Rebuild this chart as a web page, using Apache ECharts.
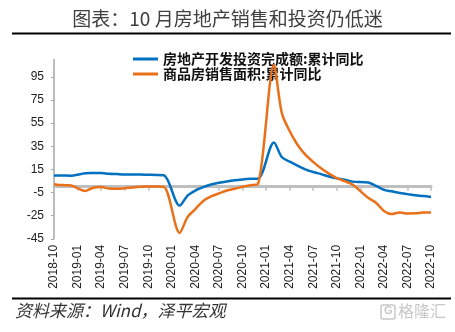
<!DOCTYPE html>
<html><head><meta charset="utf-8">
<script src="https://cdn.jsdelivr.net/npm/echarts@6/dist/echarts.min.js"></script>
<style>html,body{margin:0;padding:0;background:#fff}#c{width:455px;height:332px}</style>
</head><body><div id="c"></div>
<script>
const titleText = '图表：10 月房地产销售和投资仍低迷';
const sourceText = '资料来源：Wind，泽平宏观';
const seriesNames = ['房地产开发投资完成额:累计同比', '商品房销售面积:累计同比'];
const categories = [
  '2018-10','2018-11','2018-12',
  '2019-01','2019-02','2019-03','2019-04','2019-05','2019-06','2019-07','2019-08','2019-09','2019-10','2019-11','2019-12',
  '2020-01','2020-02','2020-03','2020-04','2020-05','2020-06','2020-07','2020-08','2020-09','2020-10','2020-11','2020-12',
  '2021-01','2021-02','2021-03','2021-04','2021-05','2021-06','2021-07','2021-08','2021-09','2021-10','2021-11','2021-12',
  '2022-01','2022-02','2022-03','2022-04','2022-05','2022-06','2022-07','2022-08','2022-09','2022-10'
];
// January values are not published (Jan-Feb combined): null, line connected across
const investYoY = [
  9.7, 9.7, 9.5,
  null, 11.6, 11.8, 11.9, 11.2, 10.9, 10.6, 10.5, 10.5, 10.3, 10.2, 9.9,
  null, -16.3, -7.7, -3.3, -0.3, 1.9, 3.4, 4.6, 5.6, 6.3, 6.8, 7.0,
  null, 38.3, 25.6, 21.6, 18.3, 15.0, 12.7, 10.9, 8.8, 7.2, 6.0, 4.4,
  null, 3.7, 0.7, -2.7, -4.0, -5.4, -6.4, -7.4, -8.0, -8.8
];
const salesAreaYoY = [
  2.2, 1.4, 1.3,
  null, -3.6, -0.9, -0.3, -1.6, -1.8, -1.3, -0.6, -0.1, 0.1, 0.2, -0.1,
  null, -39.9, -26.3, -19.3, -12.3, -8.4, -5.8, -3.3, -1.8, 0.0, 1.3, 2.6,
  null, 104.9, 63.8, 48.1, 36.3, 27.7, 21.5, 15.9, 11.3, 7.5, 4.8, 1.9,
  null, -9.6, -13.8, -20.9, -23.6, -22.2, -23.1, -23.0, -22.2, -22.3
];
const yTickValues = [-45, -25, -5, 15, 35, 55, 75, 95];

const numFont = "'Liberation Sans Narrow','Arial Narrow','Liberation Sans',sans-serif";
const cjkFont = "'Noto Sans CJK SC',sans-serif";

const chart = echarts.init(document.getElementById('c'), null, {renderer: 'canvas'});
chart.setOption({
  animation: false,
  backgroundColor: '#fff',
  grid: {left: 54, right: 24, top: 59.4, bottom: 93.2, containLabel: false},
  legend: {
    orient: 'vertical', left: 128, top: 47, itemGap: 1,
    itemWidth: 25, itemHeight: 3, icon: 'rect',
    textStyle: {fontFamily: cjkFont, fontSize: 14, fontWeight: 'bold', color: '#111', padding: [0,0,0,0]},
    data: seriesNames
  },
  xAxis: [{
    type: 'category', data: categories, boundaryGap: false, position: 'bottom',
    axisLine: {show: false, onZero: false},
    axisTick: {show: false},
    axisLabel: {interval: 2, rotate: 90, margin: 6, fontFamily: numFont, fontSize: 12, color: '#222'},
    splitLine: {show: false}
  }, {
    type: 'category', data: categories, boundaryGap: false, position: 'bottom',
    axisLine: {show: true, onZero: true, lineStyle: {color: '#bfbfbf', width: 3}},
    axisTick: {show: true, interval: 2, length: 4, lineStyle: {color: '#bfbfbf', width: 1.5}},
    axisLabel: {show: false},
    splitLine: {show: false}
  }],
  yAxis: {
    type: 'value', min: -45, max: 110,
    axisLine: {show: true, lineStyle: {color: '#a6a6a6', width: 1.5}},
    axisTick: {show: true, length: 3, customValues: yTickValues, lineStyle: {color: '#a6a6a6'}},
    axisLabel: {customValues: yTickValues, margin: 10, fontFamily: numFont, fontSize: 12, color: '#222'},
    splitLine: {show: false}
  },
  series: [{
    name: seriesNames[0], type: 'line', data: investYoY, xAxisIndex: 0,
    connectNulls: true, smooth: 0.3, showSymbol: false, symbol: 'none',
    lineStyle: {color: '#0070C0', width: 2.5}, itemStyle: {color: '#0070C0'}, z: 3
  }, {
    name: seriesNames[1], type: 'line', data: salesAreaYoY, xAxisIndex: 0,
    connectNulls: true, smooth: 0.3, showSymbol: false, symbol: 'none',
    lineStyle: {color: '#E8711A', width: 2.5}, itemStyle: {color: '#E8711A'}, z: 4
  }],
  graphic: [
    {type: 'text', left: 'center', top: 9, style: {text: titleText, fontFamily: cjkFont, fontSize: 19, fill: '#404040'}},
    {type: 'rect', shape: {x: 12, y: 32.5, width: 439, height: 2}, style: {fill: '#000'}},
    {type: 'rect', shape: {x: 12, y: 297.5, width: 439, height: 2}, style: {fill: '#000'}},
    {type: 'text', left: 15, top: 302, style: {text: sourceText, fontFamily: cjkFont, fontSize: 17, fontStyle: 'italic', fill: '#333'}},
    {type: 'rect', shape: {x: 381, y: 305, width: 14, height: 14, r: 2}, style: {fill: 'none', stroke: '#c8c8c8', lineWidth: 1.5}},
    {type: 'text', left: 384, top: 305, style: {text: 'G', fontFamily: "'Liberation Sans',sans-serif", fontSize: 11, fontWeight: 'bold', fill: '#c8c8c8'}},
    {type: 'text', left: 398, top: 303, style: {text: '格隆汇', fontFamily: cjkFont, fontSize: 16, fill: '#c8c8c8'}}
  ]
});
</script>
</body></html>
